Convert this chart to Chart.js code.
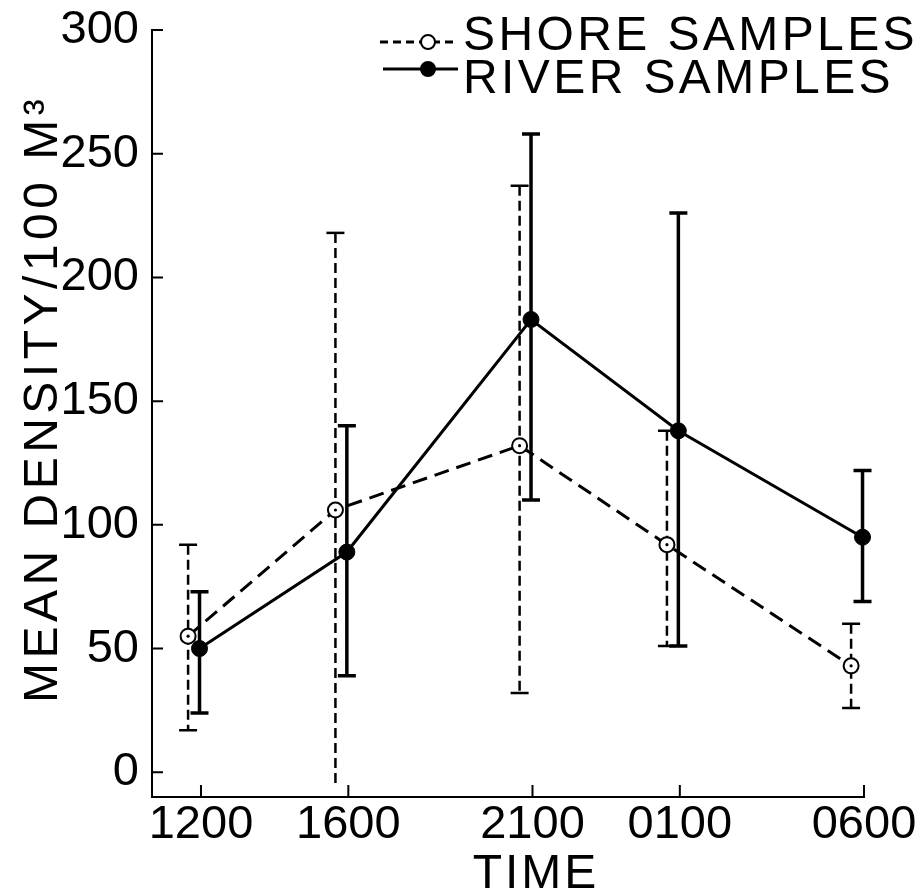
<!DOCTYPE html>
<html lang="en">
<head>
<meta charset="UTF-8">
<title>Mean density by time</title>
<script src="https://cdn.jsdelivr.net/npm/chart.js"></script>
<style>
  html, body { margin: 0; padding: 0; background: #fff; }
</style>
</head>
<body>
<canvas id="chart" width="921" height="889"></canvas>
<script>
  const timeLabels = ["1200", "1600", "2100", "0100", "0600"];
  const timeHours = [12, 16, 21, 25, 30];
  const seriesNames = ["SHORE SAMPLES", "RIVER SAMPLES"];
  const shoreMean = [55, 106, 132, 92, 43];
  const shoreLow = [17, -5, 32, 51, 26];
  const shoreHigh = [92, 218, 237, 138, 60];
  const riverMean = [50, 89, 183, 138, 95];
  const riverLow = [24, 39, 110, 51, 69];
  const riverHigh = [73, 140, 258, 226, 122];
  const yTicks = [0, 50, 100, 150, 200, 250, 300];

  // the two series are drawn slightly apart so the bars don't overlap
  const shoreShift = -0.35, riverShift = -0.04;

  Chart.defaults.font.family = "'Liberation Sans', Arial, sans-serif";
  Chart.defaults.color = "#000";

  const errorBars = {
    id: "errorBars",
    beforeDatasetsDraw(chart) {
      const ctx = chart.ctx, y = chart.scales.y;
      chart.data.datasets.forEach((ds, i) => {
        const meta = chart.getDatasetMeta(i);
        ctx.save();
        ctx.strokeStyle = "#000";
        ctx.lineWidth = ds.barWidth;
        meta.data.forEach((pt, j) => {
          const top = y.getPixelForValue(ds.high[j]);
          const bot = y.getPixelForValue(ds.low[j]);
          ctx.setLineDash(ds.barDash);
          ctx.beginPath();
          ctx.moveTo(pt.x, top);
          ctx.lineTo(pt.x, bot);
          ctx.stroke();
          ctx.setLineDash([]);
          ctx.beginPath();
          ctx.moveTo(pt.x - 9, top);
          ctx.lineTo(pt.x + 9, top);
          if (ds.low[j] >= 0) {
            ctx.moveTo(pt.x - 9, bot);
            ctx.lineTo(pt.x + 9, bot);
          }
          ctx.stroke();
        });
        ctx.restore();
      });
    },
    afterDatasetsDraw(chart) {
      const ctx = chart.ctx;
      chart.data.datasets.forEach((ds, i) => {
        if (!ds.centerDot) return;
        ctx.save();
        ctx.fillStyle = "#000";
        chart.getDatasetMeta(i).data.forEach(pt => {
          ctx.beginPath();
          ctx.arc(pt.x, pt.y, 1.6, 0, Math.PI * 2);
          ctx.fill();
        });
        ctx.restore();
      });
    }
  };

  const decorations = {
    id: "decorations",
    afterDraw(chart) {
      const ctx = chart.ctx, a = chart.chartArea;
      const xs = chart.scales.x, ys = chart.scales.y;
      ctx.save();
      ctx.strokeStyle = "#000";
      ctx.lineWidth = 2;
      // inward tick marks
      ctx.beginPath();
      ys.ticks.forEach(t => {
        const p = ys.getPixelForValue(t.value);
        ctx.moveTo(a.left, p);
        ctx.lineTo(a.left + 11, p);
      });
      xs.ticks.forEach(t => {
        const p = xs.getPixelForValue(t.value);
        ctx.moveTo(p, a.bottom);
        ctx.lineTo(p, a.bottom - 12);
      });
      ctx.stroke();

      // axis titles
      ctx.fillStyle = "#000";
      ctx.font = "48px 'Liberation Sans', Arial, sans-serif";
      ctx.letterSpacing = "3px";
      ctx.textAlign = "center";
      ctx.textBaseline = "alphabetic";
      ctx.fillText("TIME", 536, 888);
      ctx.save();
      ctx.translate(57, 703);
      ctx.rotate(-Math.PI / 2);
      ctx.textAlign = "left";
      ctx.letterSpacing = "4.5px";
      ctx.fillText("MEAN DENSITY/100 M³", 0, 0);
      ctx.restore();

      // legend
      const rows = [
        { sym: 42, base: 50, x0: 380 },
        { sym: 69, base: 93, x0: 383 }
      ];
      chart.data.datasets.forEach((ds, i) => {
        const r = rows[i];
        ctx.lineWidth = ds.borderWidth;
        ctx.setLineDash(i === 0 ? [8, 5] : []);
        ctx.beginPath();
        ctx.moveTo(r.x0, r.sym);
        ctx.lineTo(458, r.sym);
        ctx.stroke();
        ctx.setLineDash([]);
        ctx.beginPath();
        ctx.arc(428, r.sym, 7, 0, Math.PI * 2);
        ctx.fillStyle = ds.pointBackgroundColor;
        ctx.fill();
        ctx.lineWidth = 2;
        ctx.stroke();
        ctx.fillStyle = "#000";
        ctx.textAlign = "left";
        ctx.letterSpacing = "3.4px";
        ctx.fillText(ds.label, 463, r.base);
      });
      ctx.restore();
    }
  };

  new Chart(document.getElementById("chart"), {
    type: "line",
    data: {
      datasets: [
        {
          label: seriesNames[0],
          data: timeHours.map((h, i) => ({ x: h + shoreShift, y: shoreMean[i] })),
          high: shoreHigh,
          low: shoreLow,
          barDash: [10, 5],
          barWidth: 2.5,
          centerDot: true,
          borderColor: "#000",
          borderWidth: 3,
          borderDash: [15, 8],
          pointRadius: 7.5,
          pointBorderWidth: 2,
          pointBackgroundColor: "#fff",
          pointBorderColor: "#000",
          tension: 0,
          clip: false
        },
        {
          label: seriesNames[1],
          data: timeHours.map((h, i) => ({ x: h + riverShift, y: riverMean[i] })),
          high: riverHigh,
          low: riverLow,
          barDash: [],
          barWidth: 3.5,
          borderColor: "#000",
          borderWidth: 3,
          pointRadius: 8,
          pointBorderWidth: 1,
          pointBackgroundColor: "#000",
          pointBorderColor: "#000",
          tension: 0,
          clip: false
        }
      ]
    },
    options: {
      responsive: false,
      animation: false,
      layout: { padding: { top: 30, right: 57, left: 0, bottom: 0 } },
      plugins: { legend: { display: false }, tooltip: { enabled: false } },
      scales: {
        x: {
          type: "linear",
          min: 10.67,
          max: 30,
          grid: { display: false, drawTicks: false },
          border: { display: true, color: "#000", width: 2 },
          afterBuildTicks: s => { s.ticks = timeHours.map(v => ({ value: v })); },
          afterFit: s => { s.height = 92; s.paddingLeft = 0; s.paddingRight = 0; },
          ticks: {
            padding: 0,
            autoSkip: false,
            maxRotation: 0,
            font: { size: 47 },
            callback: (v, i) => timeLabels[i]
          }
        },
        y: {
          min: -10,
          max: 300,
          grid: { display: false, drawTicks: false },
          border: { display: true, color: "#000", width: 2 },
          afterBuildTicks: s => { s.ticks = yTicks.map(v => ({ value: v })); },
          afterFit: s => { s.width = 152; s.paddingTop = 0; s.paddingBottom = 0; },
          ticks: { padding: 13, font: { size: 47 } }
        }
      }
    },
    plugins: [errorBars, decorations]
  });
</script>
</body>
</html>
